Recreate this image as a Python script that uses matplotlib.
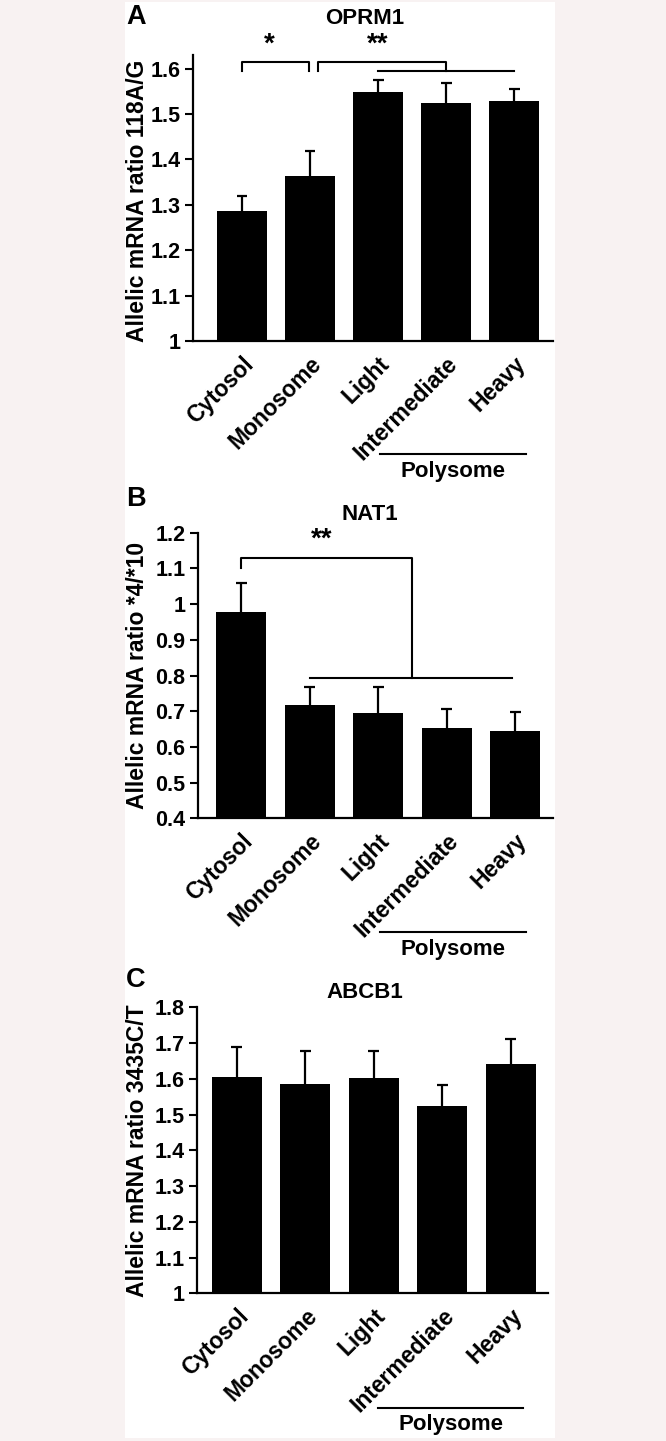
import matplotlib
matplotlib.use("Agg")
import matplotlib.pyplot as plt
import numpy as np
from matplotlib.patches import Rectangle

plt.rcParams['font.family'] = ['Liberation Sans', 'DejaVu Sans']
plt.rcParams['font.weight'] = 'bold'

categories = ["Cytosol", "Monosome", "Light", "Intermediate", "Heavy"]

oprm1_values = [1.287, 1.364, 1.548, 1.525, 1.529]
oprm1_err = [0.032, 0.054, 0.028, 0.044, 0.027]
nat1_values = [0.979, 0.717, 0.694, 0.653, 0.645]
nat1_err = [0.079, 0.052, 0.075, 0.052, 0.052]
abcb1_values = [1.604, 1.585, 1.601, 1.525, 1.641]
abcb1_err = [0.084, 0.094, 0.078, 0.058, 0.071]

panel_titles = ["OPRM1", "NAT1", "ABCB1"]
panel_letters = ["A", "B", "C"]
ylabels = ["Allelic mRNA ratio 118A/G", "Allelic mRNA ratio *4/*10", "Allelic mRNA ratio 3435C/T"]
yticks_a = [1, 1.1, 1.2, 1.3, 1.4, 1.5, 1.6]
yticks_b = [0.4, 0.5, 0.6, 0.7, 0.8, 0.9, 1, 1.1, 1.2]
yticks_c = [1, 1.1, 1.2, 1.3, 1.4, 1.5, 1.6, 1.7, 1.8]

W, H = 666, 1441
fig = plt.figure(figsize=(W / 100, H / 100), dpi=100)
fig.patch.set_facecolor('#f8f2f2')
fig.patches.append(Rectangle((125 / W, 1 - 1438 / H), 430 / W, 1436 / H,
                             transform=fig.transFigure, facecolor='white',
                             edgecolor='none', zorder=-10))

def px_axes(left, right, top, bottom):
    return [left / W, 1 - bottom / H, (right - left) / W, (bottom - top) / H]

FS = 16
XFS = 16.5
YLFS = 16.5
TICKFS = 15.5
STARFS = 20
BAR_W = 0.73
CAP_HALF = 0.08

def tick_fmt(v):
    s = f"{v:.1f}"
    return "1" if s == "1.0" else s

def draw_panel(rect, values, errs, ylim, yticks, xlim):
    ax = fig.add_axes(rect, zorder=2)
    ax.set_facecolor('none')
    x = np.arange(len(categories))
    vals = np.asarray(values)
    tops = vals + np.asarray(errs)
    ax.bar(x, vals, width=BAR_W, color='black', zorder=2)
    ax.vlines(x, vals, tops, color='black', lw=1.6, zorder=1)
    ax.hlines(tops, x - CAP_HALF, x + CAP_HALF, color='black', lw=1.6, zorder=1)
    ax.set_ylim(*ylim)
    ax.set_xlim(*xlim)
    ax.set_yticks(yticks)
    ax.set_yticklabels([tick_fmt(v) for v in yticks], fontsize=TICKFS, fontweight='bold')
    ax.set_xticks(x)
    ax.set_xticklabels(categories, rotation=45, ha='right', rotation_mode='anchor',
                       fontsize=XFS, fontweight='bold')
    ax.tick_params(axis='x', length=0, pad=8)
    ax.tick_params(axis='y', length=6, width=1.5, pad=3)
    for s in ['top', 'right']:
        ax.spines[s].set_visible(False)
    for s in ['left', 'bottom']:
        ax.spines[s].set_linewidth(1.6)
    return ax

axA = draw_panel(px_axes(193, 553, 55, 341), oprm1_values, oprm1_err,
                 (1, 1.63), yticks_a, (-0.72, 4.57))
axB = draw_panel(px_axes(198, 553, 532.7, 818.3), nat1_values, nat1_err,
                 (0.4, 1.2), yticks_b, (-0.63, 4.55))
axC = draw_panel(px_axes(197, 548, 1007.3, 1293.3), abcb1_values, abcb1_err,
                 (1, 1.8), yticks_c, (-0.58, 4.54))

def fig_text(xp, yp, s, **kw):
    fig.text(xp / W, 1 - yp / H, s, fontweight='bold', **kw)

fig_text(126, 17, panel_letters[0], fontsize=19.5, ha='left', va='center')
fig_text(126, 499, panel_letters[1], fontsize=19.5, ha='left', va='center')
fig_text(126, 980, panel_letters[2], fontsize=19.5, ha='left', va='center')
fig_text(365, 18, panel_titles[0], fontsize=FS, ha='center', va='center')
fig_text(370, 515, panel_titles[1], fontsize=FS, ha='center', va='center')
fig_text(365, 993, panel_titles[2], fontsize=FS, ha='center', va='center')

fig_text(138, 201, ylabels[0], fontsize=YLFS, ha='center', va='center', rotation=90)
fig_text(138, 675, ylabels[1], fontsize=YLFS, ha='center', va='center', rotation=90)
fig_text(138, 1151, ylabels[2], fontsize=YLFS, ha='center', va='center', rotation=90)

def polysome(ax, x0, x1, yline, ytext):
    tr = ax.get_xaxis_transform()
    ax.plot([x0, x1], [yline, yline], color='black', lw=1.5, transform=tr, clip_on=False)
    ax.text((x0 + x1) / 2, ytext, "Polysome", transform=tr, ha='center', va='center',
            fontsize=FS, fontweight='bold')

polysome(axA, 2.03, 4.17, -0.395, -0.458)
polysome(axB, 2.03, 4.15, -0.398, -0.461)
polysome(axC, 2.06, 4.18, -0.400, -0.460)

lw = 1.5
kw = dict(color='black', lw=lw, clip_on=False)
axA.plot([0, 0, 0.99, 0.99], [1.594, 1.615, 1.615, 1.594], **kw)
axA.plot([1.11, 1.11, 3.0, 3.0], [1.594, 1.615, 1.615, 1.594], **kw)
axA.plot([2.0, 4.0], [1.594, 1.594], **kw)
axA.text(0.4, 1.652, "*", ha='center', va='center', fontsize=STARFS, fontweight='bold', clip_on=False)
axA.text(2.0, 1.652, "**", ha='center', va='center', fontsize=STARFS, fontweight='bold', clip_on=False)

axB.plot([0, 0, 2.49, 2.49], [1.1, 1.128, 1.128, 0.794], **kw)
axB.plot([1.0, 3.95], [0.794, 0.794], **kw)
axB.text(1.18, 1.182, "**", ha='center', va='center', fontsize=STARFS, fontweight='bold', clip_on=False)

fig.savefig("out.png", dpi=100, facecolor=fig.get_facecolor())
